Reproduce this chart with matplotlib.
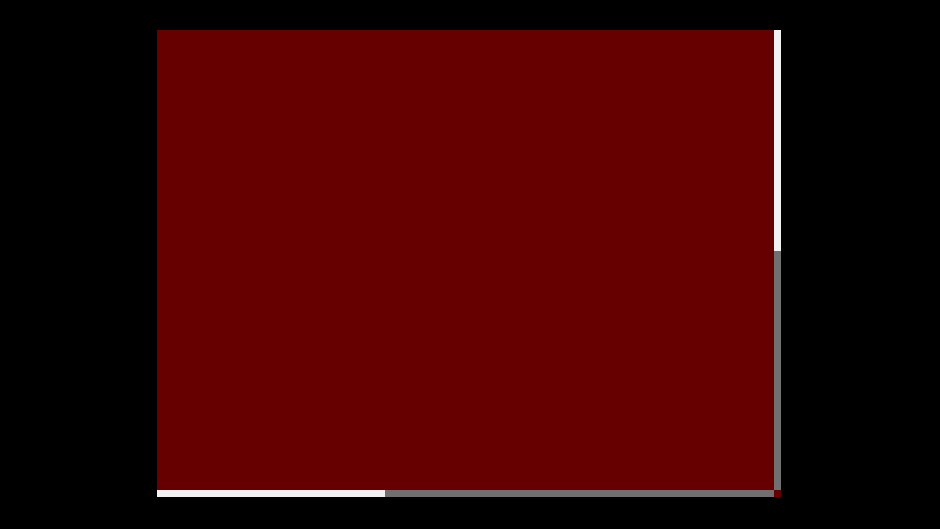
import numpy as np
import matplotlib
matplotlib.use("Agg")
import matplotlib.pyplot as plt
from matplotlib.colors import ListedColormap, BoundaryNorm

# cell boundaries (main block plus thin marginal strips)
col_edges = [0, 228, 617, 624]
row_edges = [0, 221, 460, 467]

# 0 = dark red, 1 = grey, 2 = white
cells = np.array([[0, 0, 2],
                  [0, 0, 1],
                  [2, 1, 0]])

cmap = ListedColormap(['#660000', '#707070', '#f2f2f2'])
norm = BoundaryNorm([-0.5, 0.5, 1.5, 2.5], cmap.N)

fig = plt.figure(figsize=(9.4, 5.29), dpi=100, facecolor='black')
ax = fig.add_axes([157/940, (529-497)/529, (781-157)/940, (497-30)/529])
ax.set_facecolor('black')
ax.pcolormesh(col_edges, row_edges, cells, cmap=cmap, norm=norm)
ax.set_xlim(col_edges[0], col_edges[-1])
ax.set_ylim(row_edges[-1], row_edges[0])
ax.axis('off')

fig.savefig('out.png', dpi=100, facecolor='black')
